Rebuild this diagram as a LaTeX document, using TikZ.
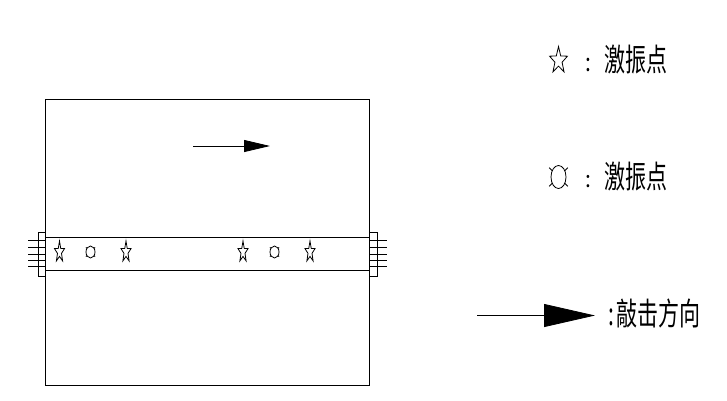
\documentclass[tikz,border=0pt]{standalone}
\usepackage{fontspec}
\newfontfamily\cjk{Noto Sans CJK SC}
\usetikzlibrary{shapes,arrows.meta}

\begin{document}
\begin{tikzpicture}[x=1pt,y=-1pt]
                    \tikzstyle{every node}=[inner sep=0,outer sep=0,line width=0.8pt]
                    \tikzstyle{box}=[draw,rectangle,anchor=north west]
                    \tikzstyle{starmark}=[draw,star,star points=5,star point ratio=2.5,minimum size=22,xscale=0.48]
                    \tikzstyle{ovalmark}=[draw,ellipse,minimum width=9,minimum height=12]
                    \tikzstyle{legendtext}=[font=\cjk\fontsize{21}{21}\selectfont,yscale=1.5,anchor=west]
                    \tikzstyle{bolt}=[line width=0.8pt]
                    \useasboundingbox (0,0) rectangle (727,400);
                    {
                        \node[box,minimum width=324,minimum height=286] (plate) at (45,99) {};
                        \node[box,minimum width=324,minimum height=33] (band) at (45,237) {};
                        \node[box,minimum width=7,minimum height=44] (flangel) at (38,232) {};
                        \node[box,minimum width=8,minimum height=44] (flanger) at (369,232) {};

                        % bolts
                        \foreach \y [count=\i] in {240,247,254,260,266} {
                            \coordinate (bl\i) at (28,\y);
                            \coordinate (br\i) at (387,\y);
                            \draw[bolt] (bl\i) -- (bl\i -| flangel.east);
                            \draw[bolt] (flanger.west |- br\i) -- (br\i);
                        }

                        \node[starmark] (s1) at (59.5,252) {};
                        \node[ovalmark] (o1) at (90.5,252) {};
                        \node[starmark] (s2) at (126,252) {};
                        \node[starmark] (s3) at (243,252) {};
                        \node[ovalmark] (o2) at (274.5,252) {};
                        \node[starmark] (s4) at (310,252) {};

                        % legend
                        \node[starmark,minimum size=28,xscale=1.4] (legs) at (558.5,60.5) {};
                        \node[legendtext,yscale=0.8] (colons) at (585,64.5) {:};
                        \node[legendtext] (texts) at (604,59.5) {激振点};

                        \node[ovalmark,minimum width=15,minimum height=23] (lego) at (558.5,177) {};
                        \node[legendtext,yscale=0.73] (colono) at (585,181.5) {:};
                        \node[legendtext] (texto) at (604,177) {激振点};

                        \foreach \n/\d in {o1/1,o2/1,lego/3} {
                            \draw[bolt] (\n.45) -- +(\d,-\d);
                            \draw[bolt] (\n.135) -- +(-\d,-\d);
                            \draw[bolt] (\n.225) -- +(-\d,\d);
                            \draw[bolt] (\n.315) -- +(\d,\d);
                        }

                        % arrows
                        \coordinate (topa) at (193,146);
                        \coordinate (topb) at (270,146);
                        \coordinate (lega) at (477,315.5);
                        \coordinate (legb) at (595,315.5);
                        \draw[-{Triangle[length=26pt,width=12pt]},bolt] (topa) -- (topb);
                        \draw[-{Triangle[length=51pt,width=23pt]},bolt] (lega) -- (legb);
                        \node[legendtext] (textd) at (608,313.5) {:\hspace{3pt}敲击方向};
                    }
                \end{tikzpicture}
\end{document}
